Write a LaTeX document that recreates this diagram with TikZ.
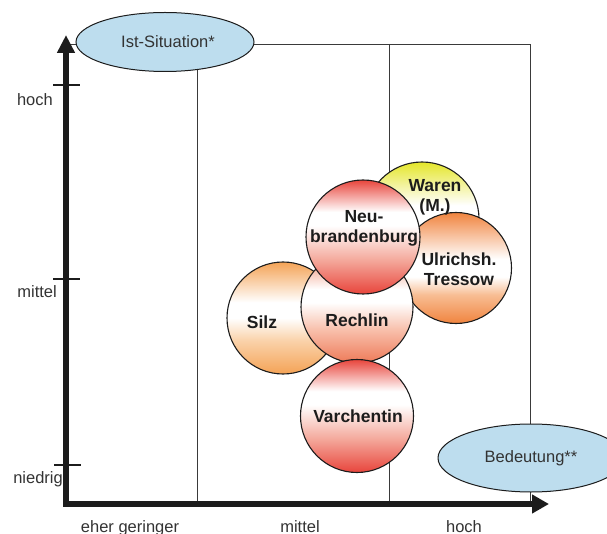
\documentclass[tikz,border=0pt]{standalone}
\usepackage{fontspec}
\setmainfont{Liberation Sans}
\usetikzlibrary{arrows.meta,shapes.geometric}

% fill colours
\definecolor{axisblack}{HTML}{1C1C1C}
\definecolor{framegray}{HTML}{3A3A3A}
\definecolor{labelgray}{HTML}{333333}
\definecolor{ovalblue}{HTML}{BDDDEE}
\definecolor{ballred}{HTML}{E8453C}
\definecolor{ballpink}{HTML}{F4A99C}
\definecolor{ballsalmon}{HTML}{EE7A58}
\definecolor{ballsalmonl}{HTML}{F8C0AC}
\definecolor{ballorange}{HTML}{F4A356}
\definecolor{ballorangel}{HTML}{FAD2AA}
\definecolor{balldeep}{HTML}{F0843F}
\definecolor{balldeepl}{HTML}{F8BE94}
\definecolor{ballyellow}{HTML}{E4E62A}
\definecolor{ballyellowl}{HTML}{F4F4A8}

% vertical ball shadings: 25bp = bottom of the ball, 75bp = top
\pgfdeclareverticalshading{redball}{100bp}{color(0bp)=(ballred); color(25bp)=(ballred);
  color(40bp)=(ballpink); color(55bp)=(white); color(61bp)=(white); color(75bp)=(ballred); color(100bp)=(ballred)}
\pgfdeclareverticalshading{salmonball}{100bp}{color(0bp)=(ballsalmon); color(25bp)=(ballsalmon);
  color(40bp)=(ballsalmonl); color(52bp)=(white); color(58bp)=(white); color(75bp)=(ballsalmon); color(100bp)=(ballsalmon)}
\pgfdeclareverticalshading{orangeball}{100bp}{color(0bp)=(ballorange); color(25bp)=(ballorange);
  color(40bp)=(ballorangel); color(50bp)=(white); color(57bp)=(white); color(75bp)=(ballorange); color(100bp)=(ballorange)}
\pgfdeclareverticalshading{deepball}{100bp}{color(0bp)=(balldeep); color(25bp)=(balldeep);
  color(38bp)=(balldeepl); color(46bp)=(white); color(54bp)=(white); color(75bp)=(balldeep); color(100bp)=(balldeep)}
\pgfdeclareverticalshading{yellowball}{100bp}{color(0bp)=(white); color(25bp)=(white);
  color(56bp)=(white); color(64bp)=(ballyellowl); color(75bp)=(ballyellow); color(100bp)=(ballyellow)}

\begin{document}
\begin{tikzpicture}[x=1pt,y=-1pt,
  axisline/.style={line width=5.5pt,color=axisblack},
  tickmark/.style={line width=2.4pt,color=axisblack},
  frameline/.style={line width=0.9pt,color=framegray},
  oval/.style={ellipse,draw=axisblack,line width=1pt,fill=ovalblue,inner sep=0pt,
    text=labelgray,font=\fontsize{16.5}{19}\selectfont},
  ball/.style={circle,draw=axisblack,line width=1.1pt,minimum size=#1,inner sep=0pt},
  ball/.default=113pt,
  balltext/.style={align=center,text=axisblack,inner sep=0pt,
    font=\bfseries\fontsize{17.5}{20}\selectfont},
  axistext/.style={text=labelgray,inner sep=0pt,font=\fontsize{16.5}{19}\selectfont}]

\useasboundingbox (0,0) rectangle (607,534);

% corner points of the axes and the grid
\coordinate (origin) at (66,504);
\coordinate (ytip) at (66,35);
\coordinate (xtip) at (549,504);
\coordinate (gridTL) at (69,44);
\coordinate (gridTR) at (530,44);
\coordinate (gridBR) at (530,504);
\coordinate (colA) at (197,44);
\coordinate (colAb) at (197,504);
\coordinate (colB) at (389,44);
\coordinate (colBb) at (389,504);

% grid lines
\draw[frameline] (gridTL) -- (gridTR) -- (gridBR);
\draw[frameline] (colA) -- (colAb);
\draw[frameline] (colB) -- (colBb);

% labelled ovals
\node[oval,minimum width=178pt,minimum height=59pt] (ist) at (165,42) {\hspace*{6pt}Ist-Situation*};
\node[oval,minimum width=186pt,minimum height=68pt] (bed) at (531,458) {\raisebox{-3pt}{Bedeutung**}};

% location balls, back to front
\node[ball=114pt,shading=yellowball] (waren) at (422,219) {};
\node[ball=111pt,shading=deepball] (ulr) at (456,268) {};
\node[ball=112pt,shading=orangeball] (silz) at (283,318) {};
\node[ball=112pt,shading=salmonball] (rech) at (357,307) {};
\node[ball=113pt,shading=redball] (varch) at (357,416) {};
\node[ball=114pt,shading=redball] (neu) at (363,237) {};

\node[balltext] (warenT) at (435,197) {Waren\\(M.)};
\node[balltext] (ulrT) at (459,269) {Ulrichsh.\\Tressow};
\node[balltext] (silzT) at (262,322) {Silz};
\node[balltext] (rechT) at (357,320) {Rechlin};
\node[balltext] (varchT) at (358,416) {Varchentin};
\node[balltext] (neuT) at (364,228) {Neu-\\brandenburg};

% axes
\draw[axisline,line join=miter,{Triangle[length=18pt,width=17pt]}-{Triangle[length=17pt,width=18pt]}]
  (ytip) -- (origin) -- (xtip);

% scale marks on the vertical axis
\coordinate (t1a) at (53,85);  \coordinate (t1b) at (80,85);
\coordinate (t2a) at (53,279); \coordinate (t2b) at (80,279);
\coordinate (t3a) at (54,465); \coordinate (t3b) at (81,465);
\draw[tickmark] (t1a) -- (t1b);
\draw[tickmark] (t2a) -- (t2b);
\draw[tickmark] (t3a) -- (t3b);

\node[axistext,anchor=east] (lhoch) at (53,100) {hoch};
\node[axistext,anchor=east] (lmittel) at (57,292) {mittel};
\node[axistext,anchor=east] (lniedrig) at (63,479) {niedrig};

\node[axistext,anchor=base] (bgering) at (130,532) {eher geringer};
\node[axistext,anchor=base] (bmittel) at (300,532) {mittel};
\node[axistext,anchor=base] (bhoch) at (464,532) {hoch};

\end{tikzpicture}
\end{document}
